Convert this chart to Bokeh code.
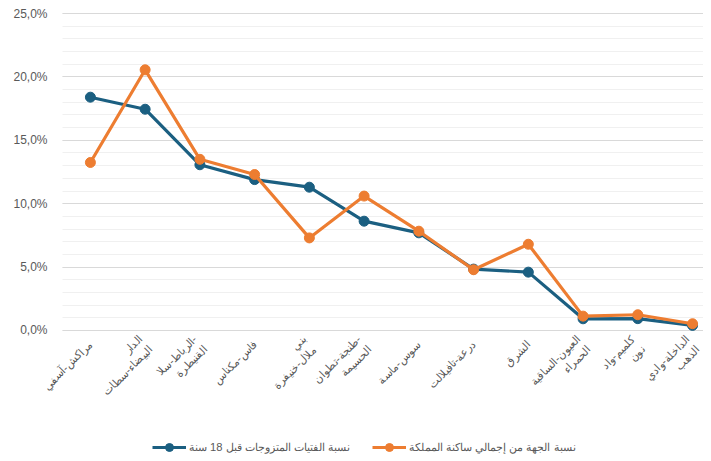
import math
from bokeh.plotting import figure
from bokeh.models import FixedTicker, Range1d, Legend, LegendItem
from bokeh.embed import file_html
from bokeh.resources import INLINE

regions = [
    "مراكش-آسفي",
    "الدار\nالبيضاء-سطات",
    "الرباط-سلا-\nالقنيطرة",
    "فاس-مكناس",
    "بني\nملال-خنيفرة",
    "طنجة-تطوان-\nالحسيمة",
    "سوس-ماسة",
    "درعة-تافيلالت",
    "الشرق",
    "العيون-الساقية\nالحمراء",
    "كلميم-واد\nنون",
    "الداخلة-وادي\nالذهب",
]
girls_married = [18.4, 17.45, 13.07, 11.9, 11.3, 8.62, 7.7, 4.84, 4.6, 0.92, 0.93, 0.4]
pop_share = [13.25, 20.56, 13.5, 12.3, 7.3, 10.6, 7.83, 4.79, 6.8, 1.13, 1.24, 0.53]
name_girls = "نسبة الفتيات المتزوجات قبل 18 سنة"
name_pop = "نسبة الجهة من إجمالي ساكنة المملكة"
y_ticks = [0, 5, 10, 15, 20, 25]
y_tick_labels = ["0,0%", "5,0%", "10,0%", "15,0%", "20,0%", "25,0%"]

idx = list(range(len(regions)))
x_lo, x_hi = -0.51, 11.2

# frame covers the whole chart so rotated labels and legend are not clipped
p = figure(frame_width=698, frame_height=455, output_backend="svg", toolbar_location=None,
           x_range=Range1d(-1.551, x_hi), y_range=Range1d(-10.1, 25.79),
           min_border_left=5, min_border_right=0, min_border_top=3, min_border_bottom=0)
p.outline_line_color = None
p.background_fill_color = "white"

# grid
p.ygrid.ticker = FixedTicker(ticks=y_ticks, minor_ticks=list(range(0, 26)))
p.ygrid.grid_line_color = "#d9d9d9"
p.ygrid.grid_line_width = 1.2
p.ygrid.minor_grid_line_color = "#f0f0f0"
p.ygrid.minor_grid_line_width = 1
p.xgrid.grid_line_color = None
if "cross_bounds" in p.ygrid.properties():
    p.ygrid.cross_bounds = (x_lo, x_hi)
else:
    p.quad(left=-1.551, right=x_lo, bottom=-1, top=26, fill_color="white", line_color=None)

# y axis, drawn at the left edge of the plotting area
p.yaxis.fixed_location = x_lo
p.yaxis.ticker = FixedTicker(ticks=y_ticks)
p.yaxis.major_label_overrides = {t: l for t, l in zip(y_ticks, y_tick_labels)}
p.yaxis.axis_line_color = None
p.yaxis.major_tick_line_color = None
p.yaxis.minor_tick_line_color = None
p.yaxis.major_label_standoff = 9
p.yaxis.major_label_text_font = "Liberation Sans"
p.yaxis.major_label_text_font_size = "12px"
p.yaxis.major_label_text_color = "#595959"

# x axis, drawn at the 0 line
p.xaxis.fixed_location = 0
p.xaxis.ticker = FixedTicker(ticks=idx)
p.xaxis.major_label_overrides = {i: r for i, r in zip(idx, regions)}
p.xaxis.major_label_orientation = math.pi / 4
p.xaxis.axis_line_color = None
p.xaxis.major_tick_line_color = None
p.xaxis.minor_tick_line_color = None
p.xaxis.major_label_standoff = 6
p.xaxis.major_label_text_font = "Liberation Sans"
p.xaxis.major_label_text_font_size = "11px"
p.xaxis.major_label_text_color = "#595959"

blue = "#1b5f81"
orange = "#ed7d31"

l1 = p.line(idx, girls_married, line_color=blue, line_width=3.2)
s1 = p.scatter(idx, girls_married, size=10, fill_color=blue, line_color=blue)
l2 = p.line(idx, pop_share, line_color=orange, line_width=3.2)
s2 = p.scatter(idx, pop_share, size=10, fill_color=orange, line_color=orange)

legend = Legend(items=[LegendItem(label=name_girls, renderers=[l1, s1]),
                       LegendItem(label=name_pop, renderers=[l2, s2])],
                orientation="horizontal", location=(147, 1),
                label_text_font="Liberation Sans", label_text_font_size="11.2px",
                label_text_color="#595959", glyph_width=34, glyph_height=20,
                spacing=22, border_line_color=None, background_fill_alpha=0,
                margin=0, padding=0, label_standoff=3)
p.add_layout(legend, "center")

open("out.html", "w").write(file_html(p, INLINE))
